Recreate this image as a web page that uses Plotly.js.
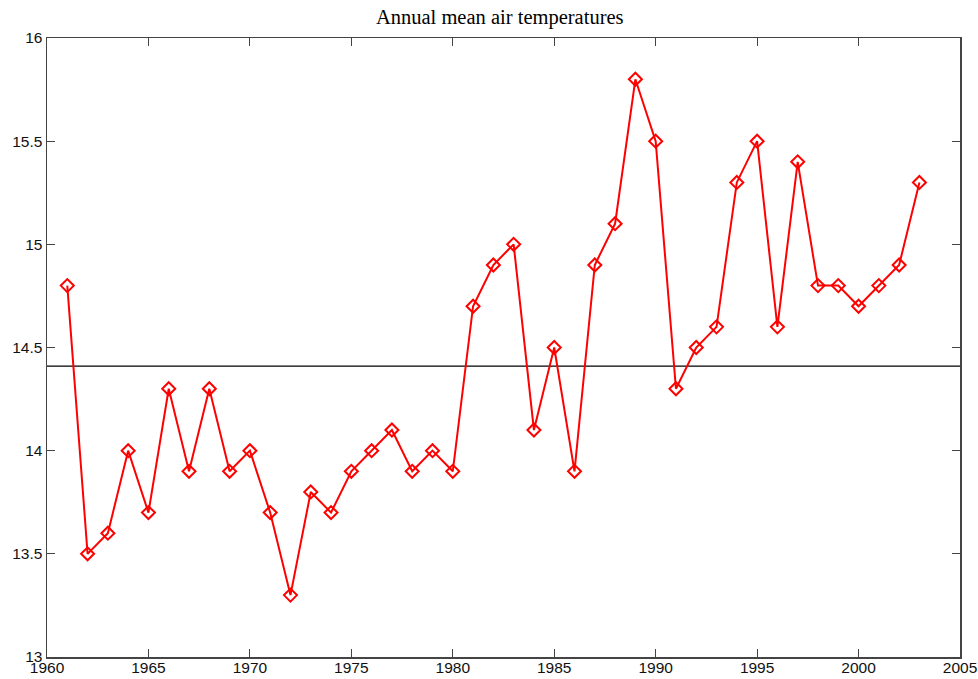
<!DOCTYPE html>
<html>
<head>
<meta charset="utf-8">
<script src="https://cdn.plot.ly/plotly-3.0.1.min.js"></script>
<style>html,body{margin:0;padding:0;background:#fff;}#chart{width:978px;height:679px;}</style>
</head>
<body>
<div id="chart"></div>
<script>
const years = [1961,1962,1963,1964,1965,1966,1967,1968,1969,1970,1971,1972,1973,1974,1975,1976,1977,1978,1979,1980,1981,1982,1983,1984,1985,1986,1987,1988,1989,1990,1991,1992,1993,1994,1995,1996,1997,1998,1999,2000,2001,2002,2003];
const temps = [14.8,13.5,13.6,14.0,13.7,14.3,13.9,14.3,13.9,14.0,13.7,13.3,13.8,13.7,13.9,14.0,14.1,13.9,14.0,13.9,14.7,14.9,15.0,14.1,14.5,13.9,14.9,15.1,15.8,15.5,14.3,14.5,14.6,15.3,15.5,14.6,15.4,14.8,14.8,14.7,14.8,14.9,15.3];
const meanValue = 14.41;
const xTicks = [1960,1965,1970,1975,1980,1985,1990,1995,2000,2005];
const yTicks = [13,13.5,14,14.5,15,15.5,16];
const yTickLabels = ['13','13.5','14','14.5','15','15.5','16'];

const axisCommon = {
  showgrid:false, zeroline:false, showline:true, mirror:'ticks',
  linecolor:'#444', linewidth:1.5, ticks:'inside', ticklen:8, tickwidth:1.2, tickcolor:'#444',
  tickfont:{family:'Arial, Liberation Sans, sans-serif', size:15.5, color:'#111'}
};

const data = [
  {x:[1960,2005], y:[meanValue,meanValue], mode:'lines', line:{color:'#000', width:1.2}, hoverinfo:'skip', showlegend:false},
  {x:years, y:temps, mode:'lines+markers', line:{color:'#ff0000', width:2},
   marker:{symbol:'diamond-open', size:10, color:'#ff0000', line:{color:'#ff0000', width:2}}, showlegend:false}
];

const layout = {
  width:978, height:679,
  margin:{l:47, r:18, t:38, b:22},
  paper_bgcolor:'#fff', plot_bgcolor:'#fff',
  title:{text:'Annual mean air temperatures', x:0.511, xanchor:'center', y:0.975, yanchor:'middle',
    font:{family:'Liberation Serif, Times New Roman, serif', size:20.5, color:'#000'}},
  xaxis:Object.assign({}, axisCommon, {range:[1960,2005], tickvals:xTicks, ticktext:xTicks.map(String), ticklabelstandoff:-4}),
  yaxis:Object.assign({}, axisCommon, {range:[13,16], tickvals:yTicks, ticktext:yTickLabels})
};

Plotly.newPlot('chart', data, layout, {displayModeBar:false, staticPlot:true});
</script>
</body>
</html>
